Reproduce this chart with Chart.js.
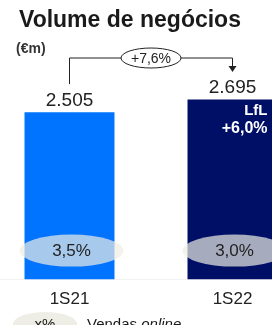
<!DOCTYPE html>
<html>
<head>
<meta charset="utf-8">
<script src="https://cdn.jsdelivr.net/npm/chart.js@4"></script>
<style>
    html, body { margin: 0; padding: 0; background: #fff; overflow: hidden; }
    body { width: 272px; height: 325px; position: relative; font-family: 'Liberation Sans', Arial, sans-serif; color: #1a1a1a; }
    #wrap { position: absolute; left: -12px; top: 0; width: 326px; height: 325px; }
    .title { position: absolute; left: 19px; top: 6px; font-size: 23px; font-weight: bold; white-space: nowrap; }
    .unit { position: absolute; left: 16px; top: 40px; font-size: 14px; font-weight: bold; color: #333; }
    .legend { position: absolute; left: 13px; top: 312px; white-space: nowrap; font-size: 15px; }
    .legend .pill { display: inline-block; width: 64px; height: 24px; border-radius: 50%; background: #eeeee6; text-align: center; line-height: 24px; vertical-align: top; }
    .legend .txt { display: inline-block; margin-left: 10px; line-height: 24px; vertical-align: top; }
</style>
</head>
<body>
<div id="wrap"><canvas id="volumeChart"></canvas></div>
<div class="title">Volume de negócios</div>
<div class="unit">(€m)</div>
<div class="legend"><span class="pill">x%</span><span class="txt">Vendas <i>online</i></span></div>
<script>
const periods = ['1S21', '1S22'];
const volumes = [2505, 2695];
const volumeLabels = ['2.505', '2.695'];
const onlineShare = ['3,5%', '3,0%'];
const growthLabel = '+7,6%';
const lflLabel = ['LfL', '+6,0%'];
const barColors = ['#0073ff', '#000f66'];

const annotations = {
    id: 'annotations',
    afterDatasetsDraw(chart) {
        const { ctx } = chart;
        const y = chart.scales.y;
        const bars = chart.getDatasetMeta(0).data;
        ctx.save();

        // value labels above bars
        ctx.fillStyle = '#222';
        ctx.font = '19px "Liberation Sans", Arial, sans-serif';
        ctx.textAlign = 'center';
        ctx.textBaseline = 'alphabetic';
        bars.forEach((bar, i) => ctx.fillText(volumeLabels[i], bar.x, bar.y - 6));

        // online share ellipses
        bars.forEach((bar, i) => {
            const cy = y.getPixelForValue(0) - 29;
            ctx.fillStyle = 'rgba(238, 238, 228, 0.7)';
            ctx.beginPath();
            ctx.ellipse(bar.x + 2, cy, 52, 16, 0, 0, Math.PI * 2);
            ctx.fill();
            ctx.fillStyle = '#222';
            ctx.font = '17px "Liberation Sans", Arial, sans-serif';
            ctx.textBaseline = 'middle';
            ctx.fillText(onlineShare[i], bar.x + 2, cy + 1);
        });

        // LfL text inside second bar
        const b2 = bars[1];
        ctx.fillStyle = '#fff';
        ctx.textAlign = 'right';
        ctx.textBaseline = 'alphabetic';
        ctx.font = 'bold 15px "Liberation Sans", Arial, sans-serif';
        ctx.fillText(lflLabel[0], b2.x + 35, b2.y + 16);
        ctx.font = 'bold 16px "Liberation Sans", Arial, sans-serif';
        ctx.fillText(lflLabel[1], b2.x + 35, b2.y + 34);

        // growth bracket
        const x1 = bars[0].x, x2 = bars[1].x;
        const top = 58;
        ctx.strokeStyle = '#222';
        ctx.lineWidth = 1;
        ctx.beginPath();
        ctx.moveTo(x1, bars[0].y - 28);
        ctx.lineTo(x1, top);
        ctx.lineTo(x2, top);
        ctx.lineTo(x2, top + 9);
        ctx.stroke();
        ctx.fillStyle = '#222';
        ctx.beginPath();
        ctx.moveTo(x2 - 4, top + 8);
        ctx.lineTo(x2 + 4, top + 8);
        ctx.lineTo(x2, top + 14);
        ctx.closePath();
        ctx.fill();

        const mx = (x1 + x2) / 2;
        ctx.fillStyle = '#fff';
        ctx.beginPath();
        ctx.ellipse(mx, top, 30, 10, 0, 0, Math.PI * 2);
        ctx.fill();
        ctx.stroke();
        ctx.fillStyle = '#222';
        ctx.textAlign = 'center';
        ctx.textBaseline = 'middle';
        ctx.font = '14px "Liberation Sans", Arial, sans-serif';
        ctx.fillText(growthLabel, mx, top + 1);
        ctx.restore();
    }
};

new Chart(document.getElementById('volumeChart'), {
    type: 'bar',
    data: {
        labels: periods,
        datasets: [{
            data: volumes,
            backgroundColor: barColors,
            barPercentage: 0.552,
            categoryPercentage: 1
        }]
    },
    options: {
        responsive: true,
        maintainAspectRatio: false,
        animation: false,
        layout: { padding: { top: 59, bottom: 5, left: 0, right: 0 } },
        plugins: { legend: { display: false }, tooltip: { enabled: false } },
        scales: {
            x: {
                grid: { display: false, drawTicks: false },
                border: { color: '#f2f2f2' },
                ticks: {
                    color: '#222',
                    padding: 10,
                    font: { family: '"Liberation Sans", Arial, sans-serif', size: 17 }
                }
            },
            y: {
                display: false,
                min: 0,
                max: 3300
            }
        }
    },
    plugins: [annotations]
});
</script>
</body>
</html>
